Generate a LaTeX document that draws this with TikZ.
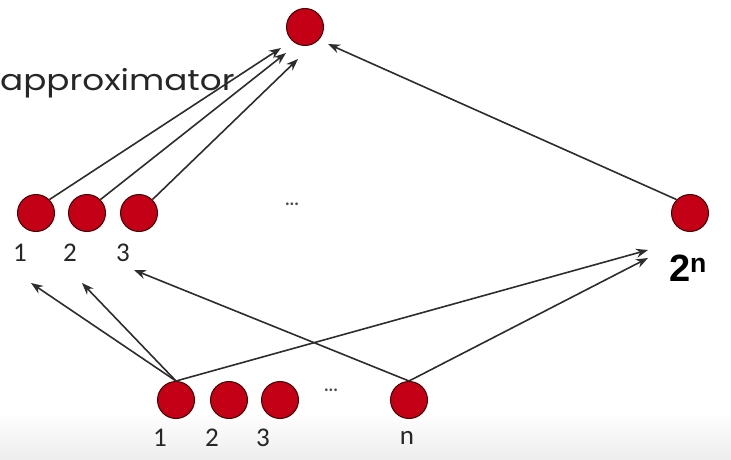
\documentclass[tikz,border=0pt]{standalone}
\usepackage{graphicx}
\usepackage{fontspec}
\setmainfont{Poppins}
\newfontfamily\numfont{Carlito}
\newfontfamily\boldfont{Liberation Sans}
\usetikzlibrary{arrows.meta}
\definecolor{unitred}{RGB}{196,0,22}
\definecolor{unitedge}{RGB}{70,0,0}
\definecolor{wire}{RGB}{45,45,45}
\tikzset{
  unit/.style={circle, fill=unitred, draw=unitedge, line width=1pt, minimum size=37pt, inner sep=0pt},
  idx/.style={font=\numfont\fontsize{27}{27}\selectfont, text=black!85},
  wirearrow/.style={draw=wire, line width=1.6pt, -{Stealth[length=12pt,width=9pt]}},
  ell/.style={font=\fontsize{22}{22}\selectfont, text=black!70}
}
\begin{document}
\begin{tikzpicture}[x=1pt,y=-1pt]
\useasboundingbox (0,0) rectangle (731,460);
\fill[white] (0,0) rectangle (731,460);
\shade[top color=white, bottom color=black!7] (0,412) rectangle (731,460);

% output unit
\node[unit] (out) at (305,27) {};
\node[anchor=west, inner sep=0pt, font=\fontsize{29}{29}\selectfont, text=black!85] (lbl) at (0,83) {\scalebox{1.18}[1]{approximator}};

% hidden layer
\node[unit] (h1) at (36,213) {};
\node[unit] (h2) at (87,213) {};
\node[unit] (h3) at (139,213) {};
\node[unit] (hn) at (690,213) {};
\node[ell] (hdots) at (292,204) {...};
\node[idx] (t1) at (20,253) {1};
\node[idx] (t2) at (70,253) {2};
\node[idx] (t3) at (123,253) {3};
\node[font=\boldfont\bfseries\fontsize{38}{38}\selectfont] (tn) at (688,268) {2\textsuperscript{n}};

% input layer
\node[unit] (x1) at (176,400) {};
\node[unit] (x2) at (229,400) {};
\node[unit] (x3) at (280,400) {};
\node[unit] (xn) at (409,400) {};
\node[ell] (xdots) at (331,390) {...};
\node[idx] (b1) at (160,438) {1};
\node[idx] (b2) at (212,438) {2};
\node[idx] (b3) at (263,438) {3};
\node[idx] (bn) at (407,438) {n};

% targets for arrow tips
\coordinate (o1) at (281,48);
\coordinate (o2) at (286,53);
\coordinate (o3) at (298,59);
\coordinate (on) at (328,44);
\coordinate (p1) at (31,283);
\coordinate (p2) at (82,283);
\coordinate (p3) at (134,270);
\coordinate (pa) at (648,250);
\coordinate (pb) at (648,258);

% hidden to output
\draw[wirearrow] (h1.north east) -- (o1);
\draw[wirearrow] (h2.north east) -- (o2);
\draw[wirearrow] (h3.north east) -- (o3);
\draw[wirearrow] (hn.north west) -- (on);

% input to hidden
\draw[wirearrow] (x1.north) -- (p1);
\draw[wirearrow] (x1.north) -- (p2);
\draw[wirearrow] (x1.north) -- (pa);
\draw[wirearrow] (xn.north) -- (p3);
\draw[wirearrow] (xn.north) -- (pb);
\end{tikzpicture}
\end{document}
